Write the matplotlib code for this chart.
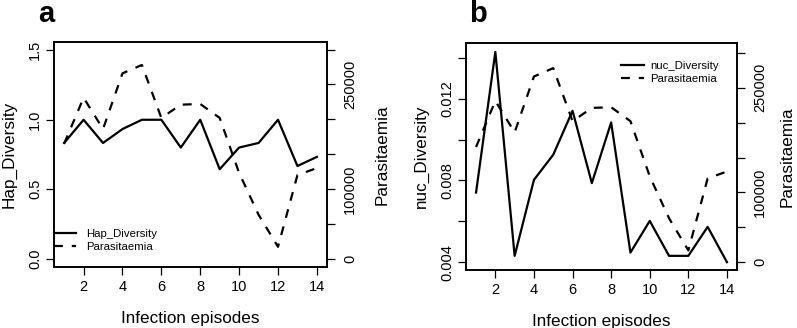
import matplotlib
matplotlib.use("Agg")
import matplotlib.pyplot as plt

plt.rcParams['font.family'] = ['Liberation Sans', 'DejaVu Sans']

# data
episodes = list(range(1, 15))
hap_div = [0.833, 1.0, 0.833, 0.933, 1.0, 1.0, 0.80, 1.0, 0.644, 0.80, 0.833, 1.0, 0.667, 0.733]
nuc_div = [0.00741, 0.01429, 0.00431, 0.00803, 0.00926, 0.01141, 0.00787, 0.01084,
           0.00447, 0.00602, 0.00431, 0.00431, 0.00573, 0.00400]
parasit = [165000, 231000, 186000, 266000, 278000, 202000, 221000, 222000,
           202000, 123000, 63000, 17000, 120000, 130000]

x_ticks = [2, 4, 6, 8, 10, 12, 14]
para_ticks = [0, 50000, 100000, 150000, 200000, 250000, 300000]
para_labels = ['0', '', '100000', '', '', '250000', '']

fig = plt.figure(figsize=(7.97, 3.28), dpi=100)

TICK = 10.5
LAB = 12.3
LW = 1.6


def style(ax, pad=3):
    for s in ax.spines.values():
        s.set_linewidth(1.2)
    ax.tick_params(length=5.5, width=0.9, labelsize=TICK, pad=pad)


def panel(rect, yvals, ylabel, ylim, yticks, ylabels, para_lim, leg_pos, leg_kw, rpad):
    ax = fig.add_axes(rect)
    l1, = ax.plot(episodes, yvals, color='black', lw=LW)
    ax.set_xlim(0.48, 14.52)
    ax.set_ylim(*ylim)
    ax.set_xticks(x_ticks)
    ax.set_yticks(yticks)
    ax.set_yticklabels(ylabels, rotation=90, va='center')
    ax.set_xlabel('Infection episodes', fontsize=LAB, labelpad=12)
    ax.set_ylabel(ylabel, fontsize=LAB, labelpad=8)
    style(ax)
    ax.tick_params(axis='x', pad=4)

    ax2 = ax.twinx()
    l2, = ax2.plot(episodes, parasit, color='black', lw=LW, dashes=(4, 4))
    ax2.set_ylim(*para_lim)
    ax2.set_yticks(para_ticks)
    ax2.set_yticklabels(para_labels, rotation=90, va='center')
    ax2.set_ylabel('Parasitaemia', fontsize=LAB, labelpad=rpad)
    style(ax2, pad=6)

    ax2.legend([l1, l2], [ylabel, 'Parasitaemia'], loc='center left',
               bbox_to_anchor=leg_pos, frameon=False, fontsize=8.2,
               borderpad=0, borderaxespad=0, labelspacing=0.25, **leg_kw)
    return ax


panel([0.0678, 0.186, 0.3425, 0.686], hap_div, 'Hap_Diversity', (-0.06, 1.56),
      [0.0, 0.5, 1.0, 1.5], ['0.0', '0.5', '1.0', '1.5'], (-12000, 311000),
      (0.0, 0.118), dict(handlelength=1.9, handletextpad=0.9), 13)

panel([0.5847, 0.177, 0.340, 0.692], nuc_div, 'nuc_Diversity', (0.00362, 0.01473),
      [0.004, 0.006, 0.008, 0.010, 0.012, 0.014],
      ['0.004', '', '0.008', '', '0.012', ''], (-11000, 314000),
      (0.572, 0.869), dict(handlelength=2.0, handletextpad=0.6), 9)

fig.text(38 / 797, 1 - 22 / 328, 'a', fontsize=21, fontweight='bold', va='baseline')
fig.text(469 / 797, 1 - 22.5 / 328, 'b', fontsize=21, fontweight='bold', va='baseline')

fig.savefig('out.png', dpi=100)
